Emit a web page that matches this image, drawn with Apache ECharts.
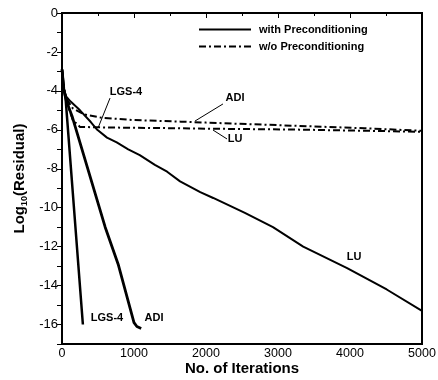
<!DOCTYPE html>
<html>
<head>
<meta charset="utf-8">
<script src="https://cdn.jsdelivr.net/npm/echarts@6/dist/echarts.min.js"></script>
<style>
  html, body { margin: 0; padding: 0; background: #fff; }
  #chart { width: 438px; height: 380px; }
</style>
</head>
<body>
<div id="chart"></div>
<script>
// Convergence histories: [iteration, log10(residual)]
const lgsWithPre = [[0, -2.9], [25, -3.9], [50, -4.4], [290, -16.0]];
const adiWithPre = [[0, -2.9], [25, -3.9], [60, -4.5], [140, -5.3], [600, -11.0], [780, -12.9],
                    [1000, -15.9], [1040, -16.1], [1100, -16.2]];
const luWithPre = [[0, -2.9], [25, -3.9], [60, -4.3], [120, -4.55], [250, -5.0], [400, -5.6],
                   [490, -6.0], [625, -6.4], [760, -6.65], [920, -7.0], [1080, -7.3], [1290, -7.8],
                   [1460, -8.15], [1640, -8.65], [1920, -9.2], [2100, -9.5], [2540, -10.27],
                   [2930, -11.0], [3350, -12.0], [3960, -13.1], [4510, -14.2], [5000, -15.3]];
const adiWithoutPre = [[0, -2.9], [25, -3.9], [60, -4.4], [150, -4.9], [300, -5.2], [550, -5.38],
                       [1000, -5.5], [1650, -5.58], [2000, -5.63], [3300, -5.8], [4200, -5.92],
                       [5000, -6.05]];
const luWithoutPre = [[0, -2.9], [25, -3.9], [60, -4.5], [150, -5.5], [250, -5.85], [600, -5.88],
                      [1650, -5.92], [2000, -5.94], [3300, -5.99], [5000, -6.1]];

const legendNames = ['with Preconditioning', 'w/o Preconditioning'];
const xTickValues = [0, 1000, 2000, 3000, 4000, 5000];
const yTickValues = [0, -2, -4, -6, -8, -10, -12, -14, -16];

// Curve annotations: label text, label anchor, leader line ends (data coordinates)
const notes = [
  { text: 'LGS-4', at: [889, -4.06], line: [[667, -4.37], [500, -5.91]] },
  { text: 'ADI', at: [2403, -4.34], line: [[2236, -4.67], [1847, -5.55]] },
  { text: 'LU', at: [2403, -6.47], line: [[2097, -6.01], [2292, -6.47]] },
  { text: 'LU', at: [4056, -12.53] },
  { text: 'LGS-4', at: [625, -15.66] },
  { text: 'ADI', at: [1278, -15.66] }
];

const FONT = '"Liberation Sans", Arial, sans-serif';
const solidStyle = { color: '#000', width: 2, type: 'solid' };
const dashDotStyle = { color: '#000', width: 2, type: [7, 3, 2, 3] };

function curve(name, data, style, width) {
  return {
    type: 'line',
    name: name,
    data: data,
    symbol: 'none',
    showSymbol: false,
    smooth: false,
    lineStyle: Object.assign({}, style, width ? { width: width } : {}),
    itemStyle: { color: '#000' },
    emphasis: { disabled: true },
    animation: false
  };
}

const chart = echarts.init(document.getElementById('chart'));

chart.setOption({
  animation: false,
  backgroundColor: '#fff',
  grid: {
    left: 62, right: 16, top: 13, bottom: 36,
    outerBoundsMode: 'none',
    containLabel: false,
    show: true, borderColor: '#000', borderWidth: 2, backgroundColor: 'transparent'
  },
  legend: {
    data: legendNames,
    orient: 'vertical',
    left: 193, top: 19,
    itemWidth: 52, itemHeight: 12, itemGap: 6,
    selectedMode: false,
    itemStyle: { opacity: 0 },
    textStyle: { fontFamily: FONT, fontSize: 11, fontWeight: 'bold', color: '#000', padding: [0, 0, 0, 3] }
  },
  xAxis: {
    type: 'value',
    min: 0, max: 5000, interval: 1000,
    name: 'No. of Iterations',
    nameLocation: 'middle', nameGap: 17,
    nameMoveOverlap: false,
    nameTextStyle: { fontFamily: FONT, fontSize: 15, fontWeight: 'bold', color: '#000', verticalAlign: 'top' },
    axisLine: { show: true, lineStyle: { color: '#000', width: 2 } },
    axisTick: { show: true, inside: false, length: 5, lineStyle: { color: '#000', width: 1 } },
    minorTick: { show: true, splitNumber: 2, length: 3, lineStyle: { color: '#000', width: 1 } },
    axisLabel: {
      fontFamily: FONT, fontSize: 12.5, color: '#000', margin: 3,
      formatter: v => (xTickValues.indexOf(v) >= 0 ? String(v) : '')
    },
    splitLine: { show: false }
  },
  yAxis: {
    type: 'value',
    min: -17, max: 0, interval: 1,
    name: '{a|Log}{b|10}{a|(Residual)}',
    nameLocation: 'middle', nameGap: 33, nameRotate: 90,
    nameMoveOverlap: false,
    nameTextStyle: {
      fontFamily: FONT, fontSize: 15, fontWeight: 'bold', color: '#000',
      rich: {
        a: { fontFamily: FONT, fontSize: 15, fontWeight: 'bold', color: '#000', lineHeight: 19, verticalAlign: 'middle' },
        b: { fontFamily: FONT, fontSize: 9, fontWeight: 'bold', color: '#000', lineHeight: 19, verticalAlign: 'bottom', padding: [7, 0, 0, 0] }
      }
    },
    axisLine: { show: true, lineStyle: { color: '#000', width: 2 } },
    axisTick: { show: true, inside: false, length: 5, lineStyle: { color: '#000', width: 1 } },
    axisLabel: {
      fontFamily: FONT, fontSize: 13, color: '#000', margin: 4,
      formatter: v => (yTickValues.indexOf(v) >= 0 ? String(v) : '')
    },
    splitLine: { show: false }
  },
  series: [
    curve(legendNames[0], luWithPre, solidStyle),
    curve(legendNames[1], adiWithoutPre, dashDotStyle),
    curve(legendNames[1], luWithoutPre, dashDotStyle),
    curve(legendNames[0], lgsWithPre, solidStyle, 2.5),
    curve(legendNames[0], adiWithPre, solidStyle, 2.8)
  ]
});

// Place curve labels and leader lines from data coordinates
const graphics = [];
notes.forEach(n => {
  const p = chart.convertToPixel({ gridIndex: 0 }, n.at);
  graphics.push({
    type: 'text', x: p[0], y: p[1], silent: true,
    style: { text: n.text, font: 'bold 11px ' + FONT, fill: '#000', align: 'center', verticalAlign: 'middle' }
  });
  if (n.line) {
    const a = chart.convertToPixel({ gridIndex: 0 }, n.line[0]);
    const b = chart.convertToPixel({ gridIndex: 0 }, n.line[1]);
    graphics.push({
      type: 'line', silent: true,
      shape: { x1: a[0], y1: a[1], x2: b[0], y2: b[1] },
      style: { stroke: '#000', lineWidth: 1 }
    });
  }
});
chart.setOption({ graphic: graphics });
</script>
</body>
</html>
